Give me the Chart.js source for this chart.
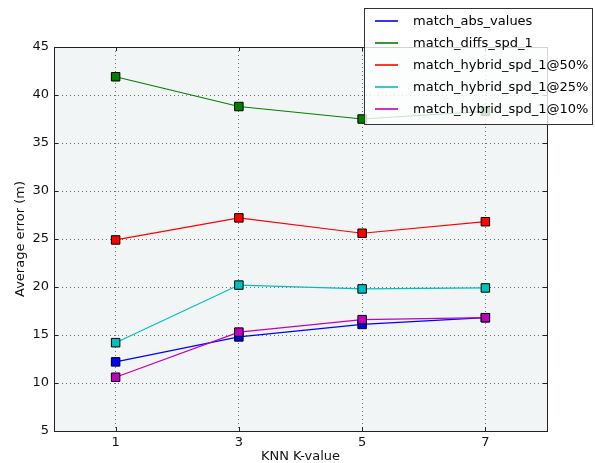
<!DOCTYPE html>
<html><head><meta charset="utf-8">
<script src="https://cdn.jsdelivr.net/npm/chart.js@4/dist/chart.umd.min.js"></script>
<style>html,body{margin:0;padding:0;background:#fff}#wrap{width:595px;height:463px}</style>
</head><body><div id="wrap"><canvas id="c" width="595" height="463"></canvas></div>
<script>
const kValues = [1, 3, 5, 7];
const seriesNames = ['match_abs_values', 'match_diffs_spd_1', 'match_hybrid_spd_1@50%', 'match_hybrid_spd_1@25%', 'match_hybrid_spd_1@10%'];
const matchAbsValues = [12.2, 14.8, 16.1, 16.8];
const matchDiffsSpd1 = [41.9, 38.8, 37.5, 38.3];
const matchHybrid50 = [24.9, 27.2, 25.6, 26.8];
const matchHybrid25 = [14.2, 20.2, 19.8, 19.9];
const matchHybrid10 = [10.6, 15.3, 16.6, 16.8];
const xTickValues = [1, 3, 5, 7];
const yTickValues = [5, 10, 15, 20, 25, 30, 35, 40, 45];
const xTitle = 'KNN K-value';
const yTitle = 'Average error (m)';

const seriesValues = [matchAbsValues, matchDiffsSpd1, matchHybrid50, matchHybrid25, matchHybrid10];
const seriesColors = ['#0000ff', '#008000', '#ff0000', '#00bfbf', '#bf00bf'];
const FONT = 'DejaVu Sans';

const datasets = seriesValues.map((vals, i) => ({
  label: seriesNames[i],
  data: vals.map((v, j) => ({x: kValues[j], y: v})),
  borderColor: seriesColors[i],
  backgroundColor: seriesColors[i],
  borderWidth: 1.2,
  pointStyle: 'rect',
  pointRadius: 6,
  pointHoverRadius: 6,
  pointBackgroundColor: seriesColors[i],
  pointBorderColor: '#000',
  pointBorderWidth: 1,
  tension: 0,
  order: seriesValues.length - i
}));

const framePlugin = {
  id: 'frame',
  beforeDraw(chart) {
    const {ctx, chartArea: a} = chart;
    ctx.save();
    ctx.fillStyle = '#f1f5f6';
    ctx.fillRect(a.left, a.top, a.right - a.left, a.bottom - a.top);
    ctx.restore();
  },
  afterDatasetsDraw(chart) {
    const {ctx, chartArea: a, scales} = chart;
    ctx.save();
    ctx.strokeStyle = '#222';
    ctx.lineWidth = 1;
    ctx.setLineDash([]);
    ctx.beginPath();
    xTickValues.forEach(v => {
      const x = Math.round(scales.x.getPixelForValue(v)) + 0.5;
      ctx.moveTo(x, a.bottom); ctx.lineTo(x, a.bottom - 4);
      ctx.moveTo(x, a.top); ctx.lineTo(x, a.top + 4);
    });
    yTickValues.forEach(v => {
      const y = Math.round(scales.y.getPixelForValue(v)) + 0.5;
      ctx.moveTo(a.left, y); ctx.lineTo(a.left + 4, y);
      ctx.moveTo(a.right, y); ctx.lineTo(a.right - 4, y);
    });
    ctx.stroke();
    ctx.strokeRect(Math.round(a.left) + 0.5, Math.round(a.top) + 0.5, Math.round(a.right - a.left), Math.round(a.bottom - a.top));
    ctx.restore();
  },
  afterDraw(chart) {
    const {ctx} = chart;
    ctx.save();
    ctx.setLineDash([]);
    const bx = 364.5, by = 8.5, bw = 228, bh = 116;
    ctx.fillStyle = 'rgba(255,255,255,0.8)';
    ctx.fillRect(bx, by, bw, bh);
    ctx.strokeStyle = '#333';
    ctx.lineWidth = 1;
    ctx.strokeRect(bx, by, bw, bh);
    ctx.font = '13px "' + FONT + '"';
    ctx.textBaseline = 'middle';
    ctx.textAlign = 'left';
    seriesNames.forEach((name, i) => {
      const y = 21 + i * 22;
      ctx.beginPath();
      ctx.strokeStyle = seriesColors[i];
      ctx.lineWidth = 1.6;
      ctx.moveTo(375, y);
      ctx.lineTo(398, y);
      ctx.stroke();
      ctx.fillStyle = '#000';
      ctx.fillText(name, 413, y + 1);
    });
    ctx.restore();
  }
};

new Chart(document.getElementById('c'), {
  type: 'line',
  data: {datasets},
  options: {
    responsive: false,
    devicePixelRatio: 1,
    animation: false,
    layout: {padding: {left: 0, right: 48, top: 47, bottom: 0}},
    plugins: {legend: {display: false}, tooltip: {enabled: false}},
    scales: {
      x: {
        type: 'linear', min: 0, max: 8,
        afterBuildTicks: s => { s.ticks = xTickValues.map(v => ({value: v})); },
        afterFit: s => { s.height = 32; },
        grid: {color: 'rgba(0,0,0,0.55)', lineWidth: 1, drawTicks: false},
        border: {display: false, dash: [1, 3]},
        ticks: {font: {family: FONT, size: 13}, color: '#111', padding: 4, maxRotation: 0},
        title: {display: true, text: xTitle, font: {family: FONT, size: 13, lineHeight: 1}, color: '#111', padding: {top: 0, bottom: 0}}
      },
      y: {
        type: 'linear', min: 5, max: 45,
        afterBuildTicks: s => { s.ticks = yTickValues.map(v => ({value: v})); },
        afterFit: s => { s.width = 54; },
        grid: {
          color: c => (c.tick && (c.tick.value === 5 || c.tick.value === 45)) ? 'rgba(0,0,0,0)' : 'rgba(0,0,0,0.55)',
          lineWidth: 1, drawTicks: false
        },
        border: {display: false, dash: [1, 3]},
        ticks: {font: {family: FONT, size: 13}, color: '#111', padding: 5},
        title: {display: true, text: yTitle, font: {family: FONT, size: 13, lineHeight: 1}, color: '#111', padding: {top: 14, bottom: 0}}
      }
    }
  },
  plugins: [framePlugin]
});
</script>
</body></html>
